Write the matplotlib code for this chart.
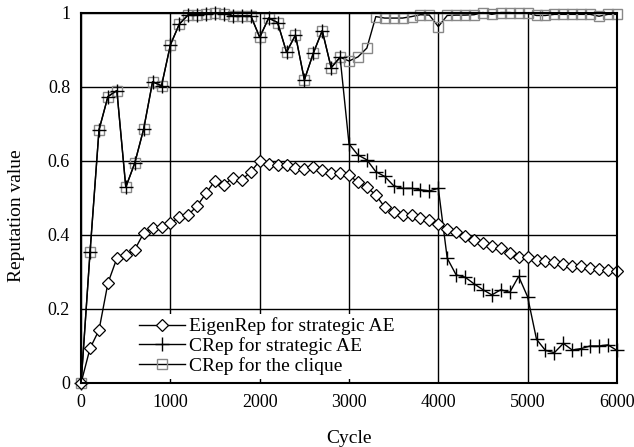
import numpy as np
import matplotlib
matplotlib.use('Agg')
import matplotlib.pyplot as plt

plt.rcParams['font.family'] = ['Liberation Serif', 'DejaVu Serif']

cycles = list(range(0, 6100, 100))

eigenrep = [0.0, 0.093, 0.142, 0.269, 0.336, 0.345, 0.359, 0.404, 0.419, 0.420,
            0.431, 0.447, 0.453, 0.478, 0.512, 0.546, 0.534, 0.554, 0.548, 0.570,
            0.599, 0.590, 0.588, 0.588, 0.579, 0.577, 0.582, 0.575, 0.566, 0.566,
            0.561, 0.541, 0.528, 0.507, 0.474, 0.462, 0.453, 0.453, 0.444, 0.440,
            0.429, 0.415, 0.408, 0.396, 0.386, 0.378, 0.368, 0.363, 0.351, 0.339,
            0.339, 0.332, 0.329, 0.327, 0.320, 0.314, 0.314, 0.311, 0.306, 0.303,
            0.302]

crep_ae = [0.0, 0.354, 0.683, 0.773, 0.789, 0.528, 0.593, 0.685, 0.813, 0.802,
           0.913, 0.969, 0.994, 0.994, 0.996, 0.998, 0.997, 0.991, 0.991, 0.991,
           0.933, 0.985, 0.973, 0.893, 0.939, 0.818, 0.890, 0.951, 0.851, 0.879,
           0.645, 0.615, 0.602, 0.570, 0.557, 0.532, 0.525, 0.525, 0.521, 0.518,
           0.525, 0.336, 0.291, 0.285, 0.267, 0.251, 0.237, 0.251, 0.244, 0.287,
           0.232, 0.117, 0.087, 0.081, 0.106, 0.088, 0.092, 0.099, 0.099, 0.102,
           0.087]

crep_clique = [0.0, 0.354, 0.683, 0.773, 0.789, 0.528, 0.593, 0.685, 0.813, 0.802,
               0.913, 0.969, 0.994, 0.994, 0.996, 0.998, 0.997, 0.991, 0.991, 0.991,
               0.933, 0.985, 0.973, 0.893, 0.939, 0.818, 0.890, 0.951, 0.851, 0.879,
               0.869, 0.880, 0.904, 0.989, 0.985, 0.985, 0.985, 0.989, 0.994, 0.993,
               0.962, 0.992, 0.993, 0.993, 0.994, 1.0, 0.995, 1.0, 1.0, 0.998,
               0.998, 0.992, 0.992, 0.995, 0.995, 0.995, 0.995, 0.995, 0.990, 0.995,
               0.995]

fig = plt.figure(figsize=(6.34, 4.47), dpi=100)
ax = fig.add_axes([0.128, 0.144, 0.845, 0.828])

l3, = ax.plot(cycles, crep_clique, color='black', lw=1, marker='s', ms=7.5,
              mfc='none', mec='#888888', mew=1, clip_on=False, zorder=3)
l2, = ax.plot(cycles, crep_ae, color='black', lw=1, marker='+', ms=10,
              mew=1, clip_on=False, zorder=4)
l1, = ax.plot(cycles, eigenrep, color='black', lw=1, marker='D', ms=6,
              mfc='white', mec='black', mew=0.9, clip_on=False, zorder=5)

ax.set_xlim(0, 6000)
ax.set_ylim(0, 1)
ax.set_xticks(range(0, 7000, 1000))
ax.set_yticks([0, 0.2, 0.4, 0.6, 0.8, 1])
ax.set_yticklabels(['0', '0.2', '0.4', '0.6', '0.8', '1'])
ax.grid(True, color='black', lw=1)
ax.set_axisbelow(True)
ax.tick_params(length=0, labelsize=13, pad=8)
for s in ax.spines.values():
    s.set_linewidth(1.5)
    s.set_zorder(7)

ax.set_xlabel('Cycle', fontsize=14, labelpad=14)
ax.set_ylabel('Reputation value', fontsize=14, labelpad=14)
ax.yaxis.set_label_coords(-0.105, 0.45)

leg = ax.legend([l1, l2, l3],
                ['EigenRep for strategic AE', 'CRep for strategic AE',
                 'CRep for the clique'],
                loc='lower left', bbox_to_anchor=(0.1, 0.01), fontsize=14,
                frameon=True, fancybox=False, framealpha=1,
                handlelength=2.4, handletextpad=0.2, labelspacing=0.1,
                borderpad=0.2, borderaxespad=0)
leg.get_frame().set_edgecolor('none')
leg.set_zorder(6)

fig.savefig('out.png', dpi=100)
